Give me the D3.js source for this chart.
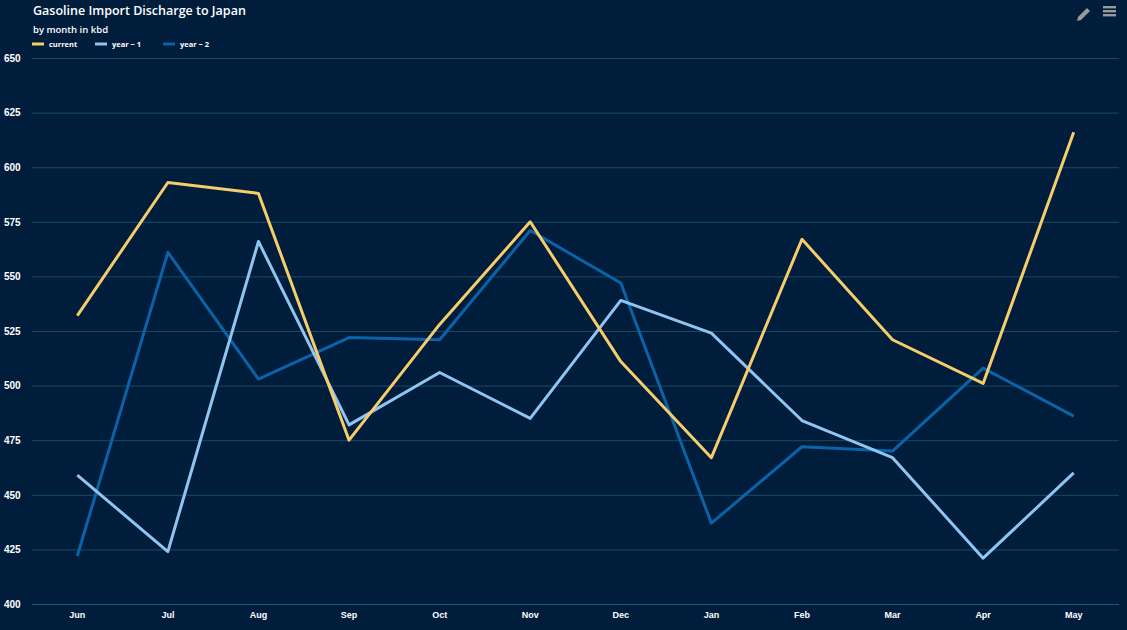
<!DOCTYPE html>
<html>
<head>
<meta charset="utf-8">
<script src="https://cdn.jsdelivr.net/npm/d3@7"></script>
<style>
  html, body { margin: 0; padding: 0; background: #001e3c; }
  svg { display: block; font-family: "Open Sans", "DejaVu Sans", sans-serif; }
</style>
</head>
<body>
<svg id="chart" width="1127" height="630"></svg>
<script>
// data
const months = ["Jun", "Jul", "Aug", "Sep", "Oct", "Nov", "Dec", "Jan", "Feb", "Mar", "Apr", "May"]
const current = [532, 593, 588, 475, 528, 575, 511, 467, 567, 521, 501, 616]
const yearMinus1 = [459, 424, 566, 482, 506, 485, 539, 524, 484, 467, 421, 460]
const yearMinus2 = [422, 561, 503, 522, 521, 571, 547, 437, 472, 470, 508, 486]
const yTicks = [400, 425, 450, 475, 500, 525, 550, 575, 600, 625, 650]

const series = [
    { name: "current", values: current, colour: "#f6cd6a" },
    { name: "year \u2212 1", values: yearMinus1, colour: "#8fc5f0" },
    { name: "year \u2212 2", values: yearMinus2, colour: "#0b62a8" }
]

const width = 1127, height = 630
const margin = { top: 58, right: 8, bottom: 26, left: 32 }

const svgContainer = d3.select("#chart")

svgContainer.append("rect")
    .attr("width", width)
    .attr("height", height)
    .attr("fill", "#001e3c")

const x = d3.scaleBand()
    .domain(months)
    .range([margin.left, width - margin.right])

const y = d3.scaleLinear()
    .domain([400, 650])
    .range([height - margin.bottom, margin.top])

// grid + y labels
const yAxis = svgContainer.append("g")
    .attr("transform", `translate(${margin.left},0)`)
    .call(d3.axisLeft(y).tickValues(yTicks).tickSize(-(width - margin.left - margin.right)).tickPadding(12))

yAxis.select(".domain").remove()
yAxis.selectAll(".tick line")
    .attr("stroke", d => d == 400 ? "#1f5870" : "#174a62")
    .attr("stroke-width", 1)
yAxis.selectAll(".tick text")
    .attr("fill", "#ffffff")
    .attr("font-size", 10)
    .attr("font-weight", 600)
    .attr("text-anchor", "start")
    .attr("x", -28)

// x labels
const xAxis = svgContainer.append("g")
    .attr("transform", `translate(0,${height - margin.bottom})`)
    .call(d3.axisBottom(x).tickSize(0).tickPadding(8))

xAxis.select(".domain").remove()
xAxis.selectAll(".tick text")
    .attr("fill", "#ffffff")
    .attr("font-size", 9)
    .attr("font-weight", 700)

// lines
const line = d3.line()
    .x((d, i) => x(months[i]) + x.bandwidth() / 2)
    .y(d => y(d))

svgContainer.selectAll("path.series")
    .data(series.slice().reverse())
    .enter()
    .append("path")
    .attr("class", "series")
    .attr("d", d => line(d.values))
    .attr("fill", "none")
    .attr("stroke", d => d.colour)
    .attr("stroke-width", 3)
    .attr("stroke-linejoin", "round")

// title
svgContainer.append("text")
    .attr("x", 33)
    .attr("y", 15)
    .attr("fill", "#ffffff")
    .attr("font-size", 12.5)
    .attr("font-weight", 600)
    .text("Gasoline Import Discharge to Japan")

svgContainer.append("text")
    .attr("x", 33)
    .attr("y", 33)
    .attr("fill", "#ffffff")
    .attr("font-size", 9.5)
    .attr("font-weight", 600)
    .text("by month in kbd")

// legend
const legendX = [32, 95, 163]
const legend = svgContainer.selectAll("g.legend")
    .data(series)
    .enter()
    .append("g")
    .attr("class", "legend")
    .attr("transform", (d, i) => `translate(${legendX[i]},44)`)

legend.append("line")
    .attr("x1", 0)
    .attr("x2", 12)
    .attr("stroke", d => d.colour)
    .attr("stroke-width", 3)

legend.append("text")
    .attr("x", 17)
    .attr("y", 3)
    .attr("fill", "#ffffff")
    .attr("font-size", 7.5)
    .attr("font-weight", 700)
    .text(d => d.name)

// export / menu icons
const icons = svgContainer.append("g").attr("fill", "#9a9a9a")
icons.append("path")
    .attr("d", "M1078,17 L1087,8 L1090,11 L1081,20 L1077,21 Z")
for (let i = 0; i < 3; i++) {
    icons.append("rect")
        .attr("x", 1103)
        .attr("y", 6 + i * 4)
        .attr("width", 13)
        .attr("height", 2.4)
}
</script>
</body>
</html>
